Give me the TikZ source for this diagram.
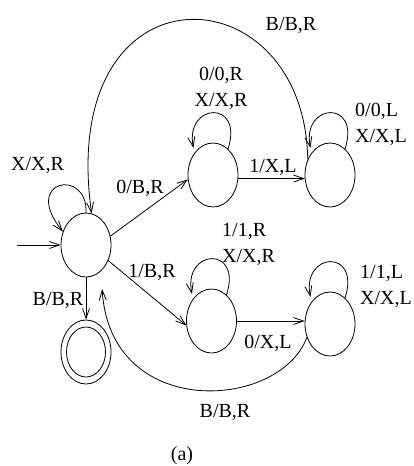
\documentclass[tikz,border=0pt]{standalone}
\usepackage{fontspec}
\setmainfont{Liberation Serif}
\usetikzlibrary{shapes.geometric,arrows.meta}

\begin{document}
\begin{tikzpicture}[x=1pt,y=-1pt,
  every node/.style={font=\fontsize{20}{26}\selectfont, inner sep=0pt},
  state/.style={draw, ellipse, line width=0.8pt, minimum width=50pt, minimum height=64pt},
  inner ring/.style={draw, ellipse, line width=0.8pt, minimum width=39pt, minimum height=50pt},
  arr/.style={line width=0.8pt, -{Straight Barb[length=10pt,width=7pt,line width=0.8pt]}},
  lbl/.style={align=center},
  lbll/.style={align=left, anchor=west}]
  \useasboundingbox (0,0) rectangle (414,466);

  % states
  \node[state] (q0) at (86,245) {};
  \node[state] (q1) at (213,175) {};
  \node[state] (q2) at (330,175) {};
  \node[state] (q3) at (211.5,321) {};
  \node[state] (q4) at (330,324) {};
  \node[state] (qf) at (86,352) {};
  \node[inner ring] (qfin) at (qf.center) {};

  % start arrow
  \coordinate (init) at (17,245);
  \draw[arr] (init) -- (q0.west);

  % transitions
  \draw[arr] (q0.20) -- (q1.190);
  \draw[arr] (q1.352) -- (q2.188);
  \draw[arr] (q0.325) -- (q3.190);
  \draw[arr] (q3.east) -- (q3.east -| q4.west);
  \draw[arr] (q0.south) -- (qf.north);
  \draw[arr] (q2.145) .. controls +(-3,-190) and +(-35,-254) .. (q0.80);
  \draw[arr, shorten >=18pt] (q4.210) .. controls +(-27,73) and +(9,150) .. (q0.300);

  % self loops
  \draw[arr] (q0.north) .. controls +(2,-45) and +(-42,-52) .. (q0.150);
  \foreach \q in {q1,q2,q3,q4}
    \draw[arr, shorten >=5pt] (\q.60) .. controls +(16,-50) and +(-10,-50) .. (\q.130);

  % labels
  \node (l02) at (291,25) {B/B,R};
  \node[lbl] (l11) at (221,88) {0/0,R\\X/X,R};
  \node[lbll] (l22) at (355,124) {0/0,L\\X/X,L};
  \node (l00) at (37.5,165) {X/X,R};
  \node (l01) at (140,188) {0/B,R};
  \node (l12) at (273,167) {1/X,L};
  \node[lbll] (l33) at (222,244) {1/1,R\\X/X,R};
  \node (l03) at (152,272) {1/B,R};
  \node[lbll] (l44) at (360,286) {1/1,L\\X/X,L};
  \node (l0f) at (58,300) {B/B,R};
  \node (l34) at (268,343) {0/X,L};
  \node (l40) at (225,412) {B/B,R};
  \node (cap) at (182,456) {(a)};
\end{tikzpicture}
\end{document}
